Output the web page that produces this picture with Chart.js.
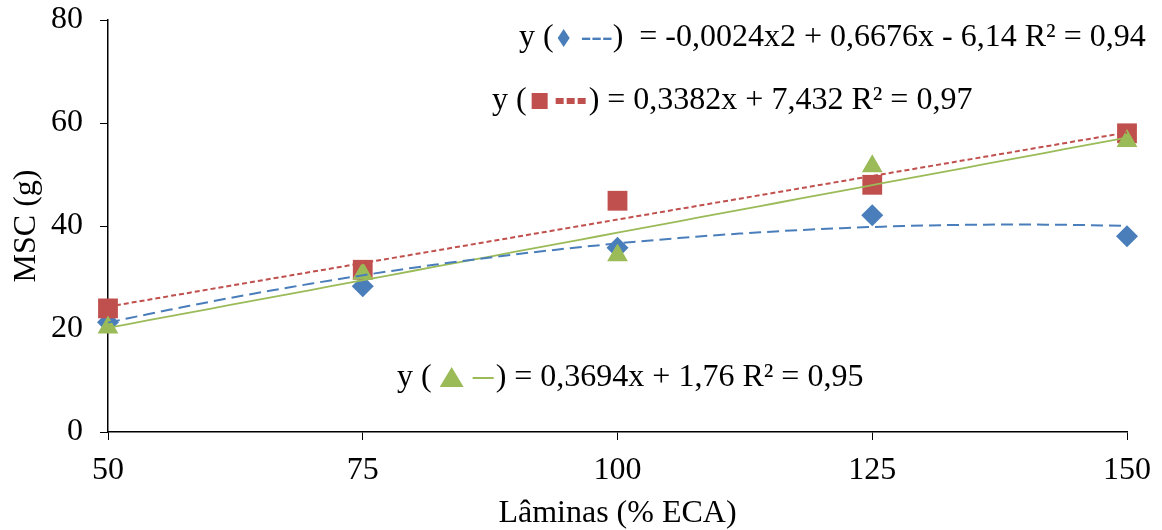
<!DOCTYPE html>
<html>
<head>
<meta charset="utf-8">
<script src="https://cdn.jsdelivr.net/npm/chart.js@4"></script>
<style>
  html, body { margin: 0; padding: 0; background: #fff; }
  #wrap { width: 1162px; height: 530px; position: relative; }
</style>
</head>
<body>
<div id="wrap"><canvas id="msc-chart"></canvas></div>
<script>
const laminas = [50, 75, 100, 125, 150];
const mscDiamond = [21.3, 28.3, 35.8, 42.1, 38.0];
const mscSquare = [24.0, 31.5, 44.9, 48.0, 58.0];
const mscTriangle = [20.3, 30.8, 34.3, 51.6, 56.5];

// trendline coefficients [c, b, a] for y = a*x^2 + b*x + c
const fitDiamond = [-6.14, 0.6676, -0.0024];
const fitSquare = [7.432, 0.3382, 0];
const fitTriangle = [1.76, 0.3694, 0];

const xTicks = [50, 75, 100, 125, 150];
const yTicks = [0, 20, 40, 60, 80];

const blue = '#4A7EBB';
const red = '#C0504D';
const green = '#9BBB59';
const serif = "'Liberation Serif', 'Times New Roman', serif";
const fontSize = 32;

function points(xs, ys) {
  return xs.map((x, i) => ({ x: x, y: ys[i] }));
}

function trend(coef) {
  let pts = [];
  for (let x = laminas[0]; x <= laminas[laminas.length - 1]; x += 2) {
    pts.push({ x: x, y: coef[0] + coef[1] * x + coef[2] * x * x });
  }
  return pts;
}

// equation boxes drawn over the plot
const equations = [
  { x: 519, y: 38, parts: [
    { t: 'y (' }, { shape: 'diamond', color: blue }, { t: ' ---', color: blue },
    { t: ')  = -0,0024x2 + 0,6676x - 6,14 R² = 0,94' } ] },
  { x: 492, y: 101, parts: [
    { t: 'y (' }, { shape: 'square', color: red }, { shape: 'dots', color: red },
    { t: ') = 0,3382x + 7,432 R² = 0,97' } ] },
  { x: 397, y: 378, parts: [
    { t: 'y ( ' }, { shape: 'triangle', color: green }, { shape: 'dash', color: green },
    { t: ') = 0,3694x + 1,76 R² = 0,95' } ] }
];

const equationPlugin = {
  id: 'equations',
  afterDraw(chart) {
    const ctx = chart.ctx;
    ctx.save();
    ctx.font = fontSize + 'px ' + serif;
    ctx.textBaseline = 'middle';
    equations.forEach(eq => {
      let cx = eq.x;
      const cy = eq.y;
      eq.parts.forEach(p => {
        ctx.fillStyle = p.color || '#000';
        if (p.t) {
          ctx.fillText(p.t, cx, cy);
          cx += ctx.measureText(p.t).width;
        } else if (p.shape === 'diamond') {
          ctx.beginPath();
          ctx.moveTo(cx + 10, cy - 9);
          ctx.lineTo(cx + 16, cy);
          ctx.lineTo(cx + 10, cy + 9);
          ctx.lineTo(cx + 4, cy);
          ctx.closePath();
          ctx.fill();
          cx += 19;
        } else if (p.shape === 'square') {
          ctx.fillRect(cx + 5, cy - 8, 16, 16);
          cx += 29;
        } else if (p.shape === 'dots') {
          for (let i = 0; i < 3; i++) ctx.fillRect(cx + i * 11, cy - 3, 8, 6);
          cx += 33;
        } else if (p.shape === 'triangle') {
          ctx.beginPath();
          ctx.moveTo(cx + 12, cy - 11);
          ctx.lineTo(cx + 24, cy + 9);
          ctx.lineTo(cx, cy + 9);
          ctx.closePath();
          ctx.fill();
          cx += 33;
        } else if (p.shape === 'dash') {
          ctx.fillRect(cx, cy - 1, 21, 2);
          cx += 23;
        }
      });
    });
    ctx.restore();
  }
};

const ctx = document.getElementById('msc-chart').getContext('2d');
new Chart(ctx, {
  type: 'scatter',
  data: {
    datasets: [
      { label: 'trend diamond', type: 'line', data: trend(fitDiamond), borderColor: blue,
        borderWidth: 2, borderDash: [12, 6], pointRadius: 0, fill: false, order: 0, clip: false },
      { label: 'trend square', type: 'line', data: trend(fitSquare), borderColor: red,
        borderWidth: 2, borderDash: [5, 3], pointRadius: 0, fill: false, order: 0, clip: false },
      { label: 'trend triangle', type: 'line', data: trend(fitTriangle), borderColor: green,
        borderWidth: 1.8, pointRadius: 0, fill: false, order: 0, clip: false },
      { label: 'triangle', data: points(laminas, mscTriangle), pointStyle: 'triangle', clip: false,
        pointRadius: 12, backgroundColor: green, borderColor: green, borderWidth: 0, order: 1 },
      { label: 'square', data: points(laminas, mscSquare), pointStyle: 'rect', clip: false,
        pointRadius: 14, backgroundColor: red, borderColor: red, borderWidth: 0, order: 2 },
      { label: 'diamond', data: points(laminas, mscDiamond), pointStyle: 'rectRot', clip: false,
        pointRadius: 11, backgroundColor: blue, borderColor: blue, borderWidth: 0, order: 3 }
    ]
  },
  options: {
    responsive: true,
    maintainAspectRatio: false,
    animation: false,
    layout: { padding: { top: 0, right: 35, left: 0, bottom: 0 } },
    plugins: { legend: { display: false }, tooltip: { enabled: false } },
    scales: {
      x: {
        type: 'linear', min: 50, max: 150,
        afterBuildTicks: s => { s.ticks = xTicks.map(v => ({ value: v })); },
        afterFit: s => { s.height = 98; },
        grid: { drawOnChartArea: false, drawTicks: true, tickLength: 8, color: '#000', lineWidth: 1 },
        border: { color: '#000', width: 1.5 },
        ticks: { color: '#000', padding: 11, font: { family: serif, size: fontSize } },
        title: { display: true, text: 'Lâminas (% ECA)', color: '#000', padding: { top: 0, bottom: 0 },
          font: { family: serif, size: fontSize, lineHeight: 1 } }
      },
      y: {
        min: 0, max: 80,
        afterBuildTicks: s => { s.ticks = yTicks.map(v => ({ value: v })); },
        afterFit: s => { s.width = 108; s.paddingTop = 20; s.paddingBottom = 0; },
        grid: { drawOnChartArea: false, drawTicks: true, tickLength: 8, color: '#000', lineWidth: 1 },
        border: { color: '#000', width: 1.5 },
        ticks: { color: '#000', padding: 17, font: { family: serif, size: fontSize } },
        title: { display: true, text: 'MSC (g)', color: '#000', padding: { top: 7, bottom: 0 },
          font: { family: serif, size: fontSize } }
      }
    }
  },
  plugins: [equationPlugin]
});
</script>
</body>
</html>
